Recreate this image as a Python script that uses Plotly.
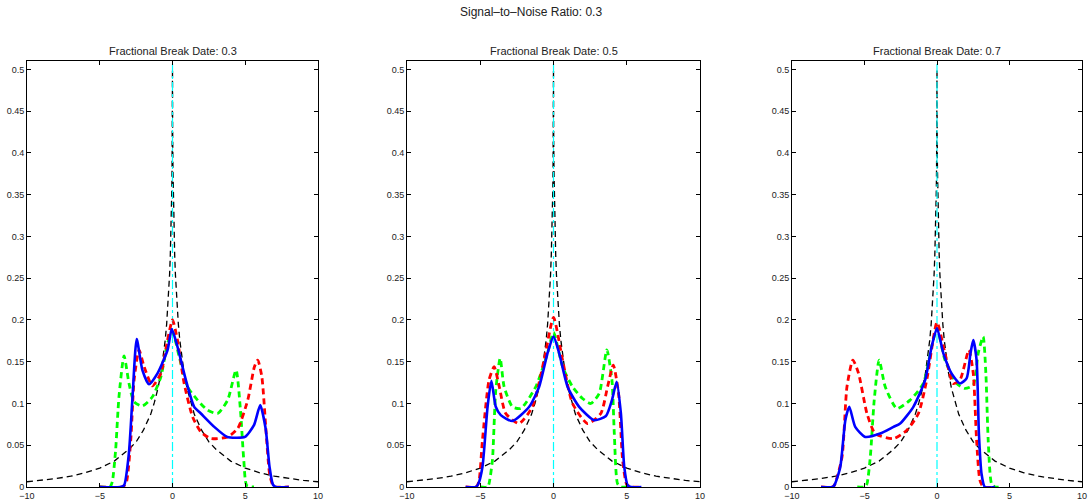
import plotly.graph_objects as go

# ---------------- data ----------------
# theoretical limiting density (black dashed), symmetric: read at |x|
ref_absx = [0, 0.01, 0.03, 0.05, 0.1, 0.15, 0.2, 0.3, 0.4, 0.5, 0.6, 0.8, 1.0, 1.25, 1.5, 2.0, 2.5, 3.0, 4.0, 5.0, 6.0, 7.0, 8.0, 9.0, 10.0]
ref_dens = [0.5, 0.427, 0.382, 0.354, 0.308, 0.278, 0.2545, 0.220, 0.1955, 0.176, 0.1605, 0.136, 0.118, 0.101, 0.087, 0.068, 0.054, 0.045, 0.031, 0.0227, 0.017, 0.0129, 0.0101, 0.0079, 0.0063]

titles = ["Fractional Break Date: 0.3", "Fractional Break Date: 0.5", "Fractional Break Date: 0.7"]
main_title = "Signal–to–Noise Ratio: 0.3"

# panel 1 (break date 0.3)
p1_blue_x = [-5.0, -3.6, -3.33, -3.0, -2.76, -2.46, -2.07, -1.61, -1.03, -0.34, -0.05, 0.34, 0.92, 1.49, 1.95, 2.87, 3.75, 4.4, 4.98, 5.6, 6.03, 6.4, 6.67, 6.9, 7.1, 8.0]
p1_blue_y = [0.0, 0.0, 0.002, 0.04, 0.104, 0.177, 0.14, 0.123, 0.136, 0.164, 0.189, 0.168, 0.128, 0.096, 0.088, 0.072, 0.06, 0.059, 0.06, 0.074, 0.098, 0.07, 0.024, 0.003, 0.0, 0.0]
p1_red_x = [-5.0, -3.5, -3.2, -2.87, -2.64, -2.3, -1.95, -1.38, -0.8, -0.34, 0.0, 0.34, 0.8, 1.38, 1.95, 2.64, 3.79, 4.48, 5.17, 5.63, 5.86, 6.14, 6.44, 6.67, 6.9, 7.1, 8.0]
p1_red_y = [0.0, 0.0, 0.004, 0.056, 0.128, 0.164, 0.144, 0.121, 0.136, 0.176, 0.2, 0.176, 0.124, 0.084, 0.066, 0.058, 0.06, 0.07, 0.104, 0.144, 0.152, 0.132, 0.064, 0.016, 0.002, 0.0, 0.0]
p1_green_x = [-5.0, -4.3, -4.14, -3.91, -3.68, -3.33, -2.99, -2.64, -2.07, -1.38, -0.8, -0.34, 0.0, 0.46, 1.03, 1.72, 2.41, 3.1, 3.79, 4.37, 4.67, 4.9, 5.1, 5.6]
p1_green_y = [0.0, 0.0, 0.006, 0.044, 0.108, 0.157, 0.124, 0.102, 0.097, 0.108, 0.132, 0.172, 0.186, 0.156, 0.12, 0.104, 0.092, 0.088, 0.104, 0.14, 0.092, 0.032, 0.002, 0.0]

# panel 2 (break date 0.5)
p2_blue_x = [-6.0, -5.3, -5.15, -4.85, -4.5, -4.24, -3.94, -3.6, -2.8, -1.66, -0.98, -0.41, 0.0, 0.39, 0.96, 1.75, 2.78, 3.58, 3.99, 4.31, 4.6, 4.83, 5.06, 5.3, 6.0]
p2_blue_y = [0.0, 0.0, 0.003, 0.024, 0.096, 0.127, 0.096, 0.086, 0.079, 0.096, 0.12, 0.16, 0.18, 0.16, 0.12, 0.096, 0.08, 0.085, 0.104, 0.126, 0.088, 0.024, 0.002, 0.0, 0.0]
p2_red_x = [-6.0, -5.3, -5.1, -4.85, -4.4, -4.05, -3.7, -3.26, -2.35, -1.44, -0.64, 0.0, 0.62, 1.3, 2.32, 3.23, 3.69, 4.08, 4.44, 4.72, 5.0, 5.3, 6.0]
p2_red_y = [0.0, 0.0, 0.006, 0.056, 0.128, 0.144, 0.12, 0.088, 0.076, 0.096, 0.152, 0.203, 0.152, 0.1, 0.076, 0.088, 0.12, 0.146, 0.112, 0.032, 0.003, 0.0, 0.0]
p2_green_x = [-5.0, -4.5, -4.4, -4.17, -3.94, -3.64, -3.37, -2.8, -2.23, -1.21, -0.41, 0.0, 0.62, 1.3, 1.98, 2.55, 3.12, 3.64, 3.99, 4.15, 4.37, 4.6, 5.0]
p2_green_y = [0.0, 0.0, 0.004, 0.032, 0.116, 0.154, 0.12, 0.096, 0.094, 0.12, 0.16, 0.185, 0.144, 0.12, 0.106, 0.1, 0.112, 0.164, 0.128, 0.064, 0.004, 0.0, 0.0]

# panel 3 (break date 0.7)
p3_blue_x = [-8.0, -7.2, -7.05, -6.67, -6.32, -6.05, -5.64, -4.95, -3.92, -3.0, -2.54, -1.63, -0.82, -0.37, 0.0, 0.44, 1.0, 1.58, 2.04, 2.31, 2.5, 2.73, 2.89, 3.07, 3.3, 4.0]
p3_blue_y = [0.0, 0.0, 0.003, 0.024, 0.08, 0.096, 0.072, 0.06, 0.064, 0.072, 0.076, 0.096, 0.128, 0.168, 0.19, 0.16, 0.136, 0.124, 0.13, 0.16, 0.176, 0.152, 0.064, 0.016, 0.0, 0.0]
p3_red_x = [-8.0, -7.2, -7.05, -6.55, -6.21, -5.8, -5.41, -4.83, -4.26, -3.0, -2.08, -1.28, -0.71, 0.0, 0.55, 1.12, 1.58, 2.2, 2.5, 2.73, 2.96, 3.2, 4.0]
p3_red_y = [0.0, 0.0, 0.003, 0.036, 0.12, 0.152, 0.136, 0.088, 0.064, 0.058, 0.068, 0.088, 0.128, 0.197, 0.16, 0.124, 0.128, 0.164, 0.136, 0.056, 0.008, 0.0, 0.0]
p3_green_x = [-5.5, -5.0, -4.83, -4.6, -4.33, -3.99, -3.57, -2.77, -1.86, -0.94, -0.37, 0.0, 0.55, 1.35, 1.92, 2.5, 2.84, 3.18, 3.37, 3.53, 3.76, 4.0, 4.5]
p3_green_y = [0.0, 0.0, 0.004, 0.036, 0.104, 0.152, 0.12, 0.094, 0.104, 0.124, 0.168, 0.19, 0.152, 0.124, 0.118, 0.122, 0.16, 0.18, 0.136, 0.056, 0.004, 0.0, 0.0]

panels = [
    (p1_blue_x, p1_blue_y, p1_red_x, p1_red_y, p1_green_x, p1_green_y),
    (p2_blue_x, p2_blue_y, p2_red_x, p2_red_y, p2_green_x, p2_green_y),
    (p3_blue_x, p3_blue_y, p3_red_x, p3_red_y, p3_green_x, p3_green_y),
]

x_ticks = [-10, -5, 0, 5, 10]
x_tick_text = ["−10", "−5", "0", "5", "10"]
y_ticks = [0, 0.05, 0.1, 0.15, 0.2, 0.25, 0.3, 0.35, 0.4, 0.45, 0.5]
y_tick_text = ["0", "0.05", "0.1", "0.15", "0.2", "0.25", "0.3", "0.35", "0.4", "0.45", "0.5"]

# ---------------- figure ----------------
W, H = 1089, 503
x_domains = [(27 / W, 318 / W), (407 / W, 700 / W), (792 / W, 1082 / W)]
y_domain = (16 / H, 442 / H)

ref_x = [-v for v in reversed(ref_absx[1:])] + ref_absx
ref_y = list(reversed(ref_dens[1:])) + ref_dens

fig = go.Figure()
for i, (bx, by, rx, ry, gx, gy) in enumerate(panels):
    xa = "x" if i == 0 else f"x{i+1}"
    ya = "y" if i == 0 else f"y{i+1}"
    fig.add_trace(go.Scatter(x=ref_x, y=ref_y, mode="lines", xaxis=xa, yaxis=ya,
                             line=dict(color="black", width=1.3, dash="6px,4px"), showlegend=False))
    fig.add_trace(go.Scatter(x=[0, 0], y=[0, 0.52], mode="lines", xaxis=xa, yaxis=ya,
                             line=dict(color="cyan", width=1.2, dash="dashdot"), showlegend=False))
    fig.add_trace(go.Scatter(x=gx, y=gy, mode="lines", xaxis=xa, yaxis=ya,
                             line=dict(color="#00ff00", width=2.8, dash="6px,4px", shape="spline", smoothing=0.6),
                             showlegend=False))
    fig.add_trace(go.Scatter(x=rx, y=ry, mode="lines", xaxis=xa, yaxis=ya,
                             line=dict(color="red", width=2.8, dash="6px,4px", shape="spline", smoothing=0.6),
                             showlegend=False))
    fig.add_trace(go.Scatter(x=bx, y=by, mode="lines", xaxis=xa, yaxis=ya,
                             line=dict(color="blue", width=2.6, shape="spline", smoothing=0.6),
                             showlegend=False))

axis_common = dict(showline=True, linecolor="black", linewidth=1, mirror="ticks", ticks="inside",
                   ticklen=4, tickcolor="black", showgrid=False, zeroline=False,
                   tickfont=dict(family="Liberation Sans, Arial", size=9, color="#222222"))
layout = dict(width=W, height=H, margin=dict(l=0, r=0, t=0, b=0, autoexpand=False),
              paper_bgcolor="white", plot_bgcolor="white", showlegend=False)
annotations = []
for i in range(3):
    xk = "xaxis" if i == 0 else f"xaxis{i+1}"
    yk = "yaxis" if i == 0 else f"yaxis{i+1}"
    anchor_x = "y" if i == 0 else f"y{i+1}"
    anchor_y = "x" if i == 0 else f"x{i+1}"
    layout[xk] = dict(domain=list(x_domains[i]), range=[-10, 10], anchor=anchor_x,
                      tickvals=x_ticks, ticktext=x_tick_text, **axis_common)
    layout[yk] = dict(domain=list(y_domain), range=[0, 0.51], anchor=anchor_y,
                      tickvals=y_ticks, ticktext=y_tick_text, **axis_common)
    annotations.append(dict(text=titles[i], x=(x_domains[i][0] + x_domains[i][1]) / 2, y=(H - 51) / H,
                            xref="paper", yref="paper", showarrow=False, xanchor="center", yanchor="middle",
                            font=dict(family="Liberation Sans, Arial", size=11, color="#222222")))
annotations.append(dict(text=main_title, x=531 / W, y=(H - 12) / H, xref="paper", yref="paper",
                        showarrow=False, xanchor="center", yanchor="middle",
                        font=dict(family="Liberation Sans, Arial", size=12, color="#222222")))
layout["annotations"] = annotations
fig.update_layout(**layout)

fig.write_html("out.html", config={"displayModeBar": False},
               post_script="document.body.style.margin='0';document.body.style.padding='0';")
